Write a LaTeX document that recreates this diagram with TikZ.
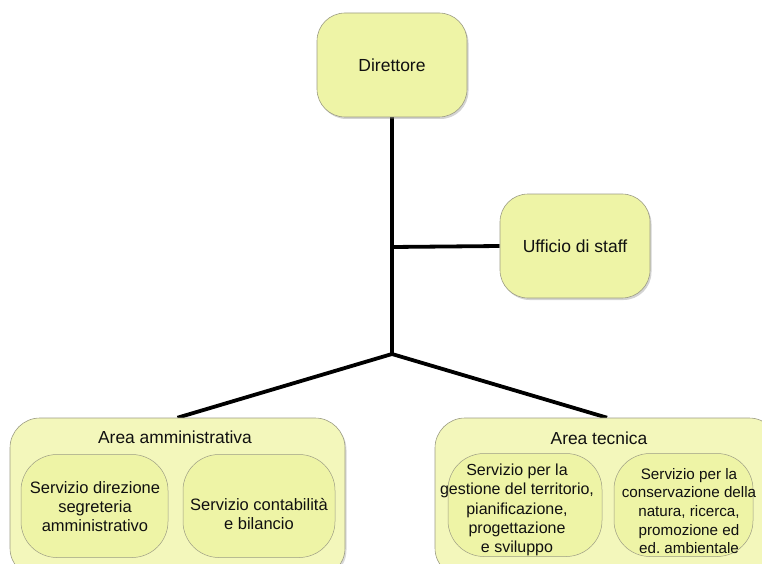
\documentclass[tikz,border=0pt]{standalone}
\usepackage{fontspec}
\setmainfont{Liberation Sans}
\frenchspacing
\usetikzlibrary{shadows,backgrounds}
\definecolor{boxfill}{HTML}{EEF4A6}
\definecolor{areafill}{HTML}{F3F7BB}
\definecolor{boxline}{HTML}{9C9C84}
\definecolor{txt}{HTML}{101010}
\tikzset{
  topbox/.style={draw=boxline, line width=0.6pt, fill=boxfill, rounded corners=28pt,
    minimum width=150pt, minimum height=104pt, inner sep=0pt, text=txt,
    drop shadow={shadow xshift=1.5pt, shadow yshift=-2pt, opacity=0.35, fill=gray}},
  areabox/.style={draw=boxline, line width=0.6pt, fill=areafill, rounded corners=30pt,
    minimum height=160pt, inner sep=0pt,
    drop shadow={shadow xshift=1.5pt, shadow yshift=-2pt, opacity=0.3, fill=gray}},
  innerbox/.style={draw=boxline, line width=0.5pt, fill=boxfill, rounded corners=36pt,
    minimum height=103pt, inner sep=0pt},
  lbl/.style={text=txt, align=center, inner sep=0pt},
  conn/.style={line width=3.8pt, black}
}
\begin{document}
\begin{tikzpicture}[x=1pt,y=-1pt]
\useasboundingbox (0,0) rectangle (762,564);
% top level
\node[topbox, font=\fontsize{17.5}{21}\selectfont] (dir) at (392,65) {Direttore};
\node[topbox, font=\fontsize{17.5}{21}\selectfont] (uff) at (575,246) {Ufficio di staff};
% areas
\node[areabox, minimum width=335pt] (amm) at (177.5,498) {};
\node[areabox, minimum width=344pt] (tec) at (607,498) {};
\node[lbl, font=\fontsize{17.4}{21}\selectfont] (ammT) at (175,437) {Area amministrativa};
\node[lbl, font=\fontsize{17.4}{21}\selectfont] (tecT) at (599,438) {Area tecnica};
% inner boxes
\node[innerbox, minimum width=147pt] (a1) at (94.5,506) {};
\node[innerbox, minimum width=152pt] (a2) at (259,506) {};
\node[innerbox, minimum width=154pt] (t1) at (525,505) {};
\node[innerbox, minimum width=139pt] (t2) at (683.5,505) {};
\node[lbl, font=\fontsize{16.5}{19}\selectfont] (a1T) at (95,507) {Servizio direzione\\segreteria\\amministrativo};
\node[lbl, font=\fontsize{16.5}{19}\selectfont] (a2T) at (259,514) {Servizio contabilità\\e bilancio};
\node[lbl, font=\fontsize{16}{19.2}\selectfont] (t1T) at (517,510) {Servizio per la\\gestione del territorio,\\pianificazione,\\progettazione\\e sviluppo};
\node[lbl, font=\fontsize{15.2}{18.7}\selectfont] (t2T) at (689,511) {Servizio per la\\conservazione della\\natura, ricerca,\\promozione ed\\ed. ambientale};
% connectors
\coordinate (J1) at (392,247);
\coordinate (J2) at (392,354);
\begin{scope}[on background layer]
\draw[conn] (dir.south) -- (J2);
\draw[conn] (J1) -- (uff.west);
\draw[conn] (J2) -- (amm.north);
\draw[conn] (J2) -- (tec.north);
\end{scope}
\end{tikzpicture}
\end{document}
